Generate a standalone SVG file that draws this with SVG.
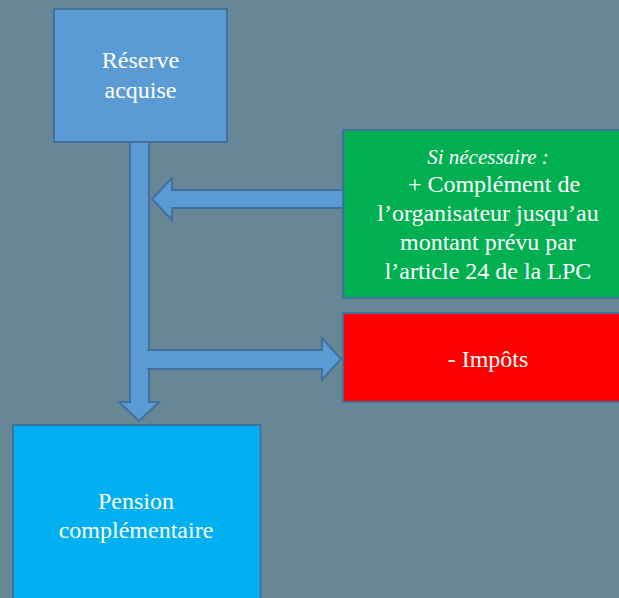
<svg xmlns="http://www.w3.org/2000/svg" width="619" height="598" viewBox="0 0 619 598">
<style>
.box{stroke:#41719C;stroke-width:2}
.arr{fill:#5B9BD5;stroke:#41719C;stroke-width:2;stroke-linejoin:miter}
.t{font-family:"Liberation Serif","Times New Roman",serif;font-size:24px;fill:#FFFFFF;text-anchor:middle}
.it{font-style:italic;font-size:21px}
</style>
<rect x="0" y="0" width="619" height="598" fill="#678797"/>
<g id="connectors">
<path class="arr" d="M130,141 L130,402 L119,402 L139,421 L159,402 L149,402 L149,141 Z"/>
<path class="arr" d="M343,190 L172,190 L172,178 L152,199 L172,220 L172,208 L343,208 Z"/>
<path class="arr" d="M147,350 L322,350 L322,338 L341,359 L322,380 L322,369 L147,369"/>
</g>
<g id="reserve">
<rect class="box" x="54" y="9" width="173" height="133" fill="#5B9BD5"/>
<text class="t" x="140.5" y="68">Réserve</text>
<text class="t" x="140.5" y="98">acquise</text>
</g>
<g id="complement">
<rect class="box" x="343" y="130" width="292" height="168" fill="#00B050"/>
<text class="t it" x="488" y="164">Si nécessaire :</text>
<text class="t" x="494" y="192">+ Complément de</text>
<text class="t" x="488" y="221">l’organisateur jusqu’au</text>
<text class="t" x="488" y="250">montant prévu par</text>
<text class="t" x="488" y="279">l’article 24 de la LPC</text>
</g>
<g id="impots">
<rect class="box" x="343" y="313" width="292" height="89" fill="#FF0000"/>
<text class="t" x="488" y="367">- Impôts</text>
</g>
<g id="pension">
<rect class="box" x="13" y="425" width="247.5" height="190" fill="#00B0F0"/>
<text class="t" x="136" y="509">Pension</text>
<text class="t" x="136" y="538">complémentaire</text>
</g>
</svg>
